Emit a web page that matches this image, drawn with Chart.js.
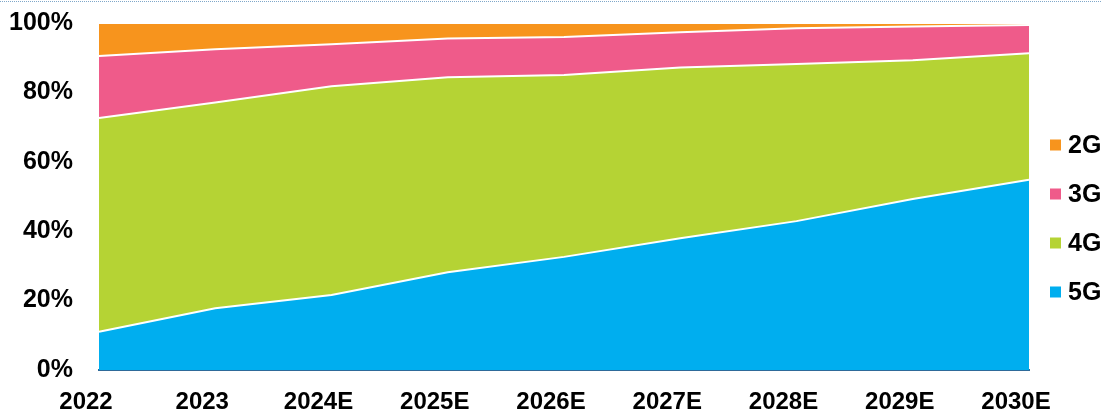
<!DOCTYPE html>
<html>
<head>
<meta charset="utf-8">
<script src="https://cdn.jsdelivr.net/npm/chart.js@4/dist/chart.umd.min.js"></script>
<style>
    html, body { margin: 0; padding: 0; background: #fff; }
    #wrap { width: 1101px; height: 414px; position: relative; }
</style>
</head>
<body>
<div id="wrap"><canvas id="chart"></canvas></div>
<script>
// share of connections by technology, %
const years = ["2022", "2023", "2024E", "2025E", "2026E", "2027E", "2028E", "2029E", "2030E"];
const share_5g = [11.0, 17.8, 21.6, 28.2, 32.6, 38.0, 42.9, 49.3, 54.8];
const share_4g = [61.6, 59.3, 60.2, 56.2, 52.4, 49.2, 45.3, 40.0, 36.5];
const share_3g = [17.9, 15.3, 12.1, 11.1, 11.0, 10.1, 10.3, 9.7, 8.1];
const share_2g = [9.5, 7.6, 6.1, 4.5, 4.0, 2.7, 1.5, 1.0, 0.6];
const y_ticks = [0, 20, 40, 60, 80, 100];

const font_family = "'Liberation Sans', Arial, sans-serif";

const series = [
    { label: "5G", data: share_5g, color: "#00AEEF" },
    { label: "4G", data: share_4g, color: "#B5D334" },
    { label: "3G", data: share_3g, color: "#EF5B8A" },
    { label: "2G", data: share_2g, color: "#F7941D" },
];

// legend on the right, 2G on top, plus the dotted rule at the very top
const side_legend = {
    id: "side_legend",
    afterDraw(chart) {
        const ctx = chart.ctx;
        ctx.save();
        ctx.strokeStyle = "#7FA7C9";
        ctx.lineWidth = 1;
        ctx.setLineDash([1, 1]);
        ctx.beginPath();
        ctx.moveTo(0, 1.5);
        ctx.lineTo(chart.width, 1.5);
        ctx.stroke();
        ctx.setLineDash([]);

        const items = chart.data.datasets.slice().reverse();
        ctx.font = "bold 25px " + font_family;
        ctx.textBaseline = "middle";
        ctx.textAlign = "left";
        items.forEach((ds, i) => {
            const cy = 145 + i * 49;
            ctx.fillStyle = ds.backgroundColor;
            ctx.fillRect(1050, cy - 5.5, 11, 11);
            ctx.fillStyle = "#000";
            ctx.fillText(ds.label, 1068, cy + 1);
        });
        ctx.restore();
    },
};

const ctx = document.getElementById("chart").getContext("2d");
const chart = new Chart(ctx, {
    type: "line",
    data: {
        labels: years,
        datasets: series.map((s, i) => ({
            label: s.label,
            data: s.data,
            backgroundColor: s.color,
            borderColor: "#ffffff",
            borderWidth: 2,
            pointRadius: 0,
            tension: 0,
            fill: i === 0 ? "origin" : "-1",
        })),
    },
    options: {
        responsive: true,
        maintainAspectRatio: false,
        animation: false,
        layout: {
            padding: { left: 0, right: 72, top: 23, bottom: 0 },
        },
        plugins: {
            legend: { display: false },
            tooltip: { enabled: false },
        },
        scales: {
            x: {
                offset: false,
                z: 1,
                grid: { display: false },
                border: { display: true, color: "#2E6A99", width: 2 },
                ticks: {
                    color: "#000",
                    padding: 10,
                    labelOffset: -13,
                    maxRotation: 0,
                    autoSkip: false,
                    font: { family: font_family, size: 24, weight: "bold" },
                },
                afterFit: (axis) => {
                    axis.height = 44;
                    axis.paddingLeft = 0;
                    axis.paddingRight = 0;
                },
            },
            y: {
                stacked: true,
                min: 0,
                max: 100,
                afterBuildTicks: (axis) => {
                    axis.ticks = y_ticks.map((v) => ({ value: v }));
                },
                grid: { display: false },
                border: { display: false },
                ticks: {
                    color: "#000",
                    padding: 18,
                    callback: (v) => v + "%",
                    font: { family: font_family, size: 25, weight: "bold" },
                },
                afterFit: (axis) => {
                    axis.width = 99;
                    axis.paddingTop = 0;
                    axis.paddingBottom = 0;
                },
            },
        },
    },
    plugins: [side_legend],
});
</script>
</body>
</html>
